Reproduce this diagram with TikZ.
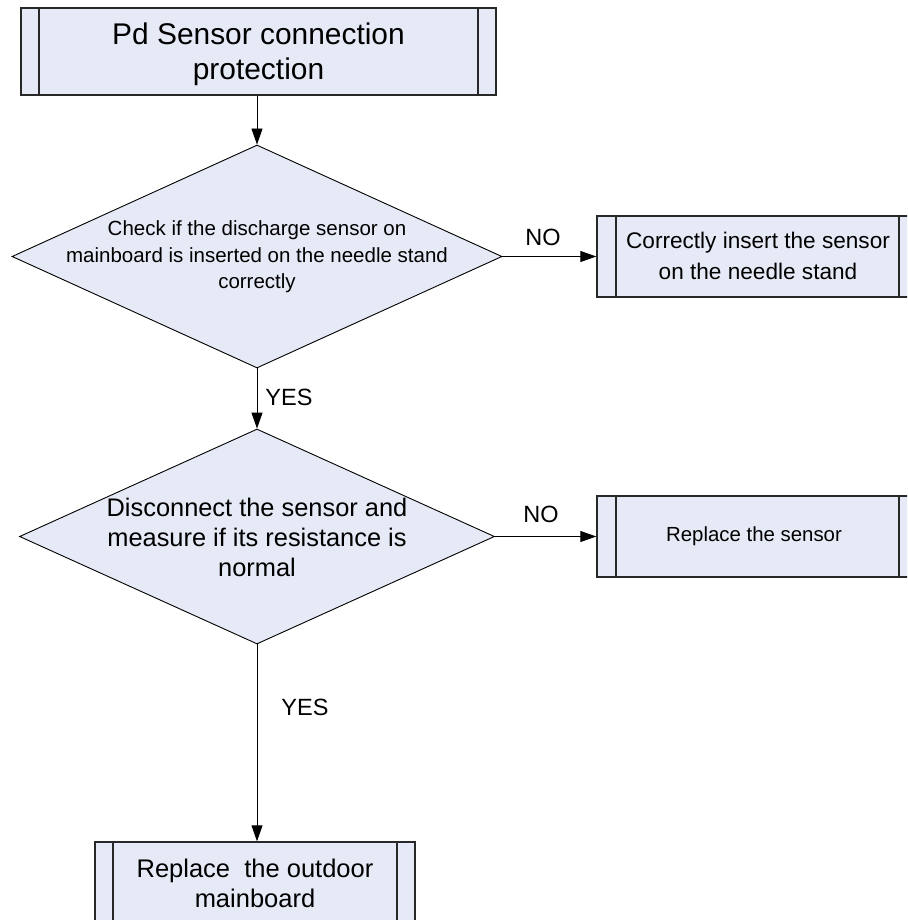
\documentclass[tikz,border=0pt]{standalone}
\usepackage{fontspec}
\setmainfont{Liberation Sans}
\usetikzlibrary{shapes.geometric,arrows.meta}
\definecolor{boxfill}{RGB}{230,234,246}
\definecolor{edge}{RGB}{40,40,40}
\tikzset{
  procbox/.style={draw=edge, line width=1.4pt, fill=boxfill, rectangle, inner sep=0pt,
    path picture={
      \draw[edge, line width=1.1pt] ([xshift=#1]path picture bounding box.north west) -- ([xshift=#1]path picture bounding box.south west);
      \draw[edge, line width=1.1pt] ([xshift=-#1]path picture bounding box.north east) -- ([xshift=-#1]path picture bounding box.south east);
    }},
  decision/.style={draw=black, line width=0.9pt, fill=boxfill, diamond, inner sep=0pt},
  txt/.style={align=center, inner sep=0pt, text=black},
  conn/.style={draw=black, line width=0.9pt, -{Triangle[length=16pt, width=11pt]}},
  lbl/.style={inner sep=0pt, font=\fontsize{23.5}{28}\selectfont}
}
\begin{document}
\begin{tikzpicture}[x=1pt, y=-1pt]
\useasboundingbox (0,0) rectangle (907,920);
\clip (0,0) rectangle (907,920);
% process boxes
\node[procbox=18pt, minimum width=475pt, minimum height=87pt] (top) at (258.5,51.5) {};
\node[txt, font=\fontsize{29.9}{35}\selectfont] (topt) at (258.5,54) {Pd Sensor connection\\protection};

\node[decision, minimum width=490pt, minimum height=223pt] (d1) at (257,256.5) {};
\node[txt, font=\fontsize{20.5}{26.5}\selectfont] (d1t) at (257,257) {Check if the discharge sensor on\\mainboard is inserted on the needle stand\\correctly};

\node[procbox=19pt, minimum width=321pt, minimum height=81pt] (b2) at (757.5,256.5) {};
\node[txt, font=\fontsize{22.6}{31}\selectfont] (b2t) at (758,256) {Correctly insert the sensor\\on the needle stand};

\node[decision, minimum width=475pt, minimum height=215pt] (d2) at (257,536.5) {};
\node[txt, font=\fontsize{25.4}{30}\selectfont] (d2t) at (257,537) {Disconnect the sensor and\\measure if its resistance is\\normal};

\node[procbox=19pt, minimum width=321pt, minimum height=81pt] (b3) at (757.5,536.5) {};
\node[txt, font=\fontsize{20.4}{25}\selectfont] (b3t) at (754,536) {Replace the sensor};

\node[procbox=18pt, minimum width=320pt, minimum height=81pt] (b4) at (255,882.5) {};
\node[txt, font=\fontsize{25.5}{30}\selectfont] (b4t) at (255,883) {Replace\ \ the outdoor\\mainboard};

% connectors
\draw[conn] (d1.north |- top.south) -- (d1.north);
\draw[conn] (d1.south) -- (d2.north);
\draw[conn] (d1.east) -- (b2.west);
\draw[conn] (d2.east) -- (b3.west);
\draw[conn] (d2.south) -- (d2.south |- b4.north);

% labels
\node[lbl] (no1) at (543,237) {NO};
\node[lbl] (no2) at (541,514) {NO};
\node[lbl] (yes1) at (289,397) {YES};
\node[lbl] (yes2) at (305,707) {YES};
\end{tikzpicture}
\end{document}
